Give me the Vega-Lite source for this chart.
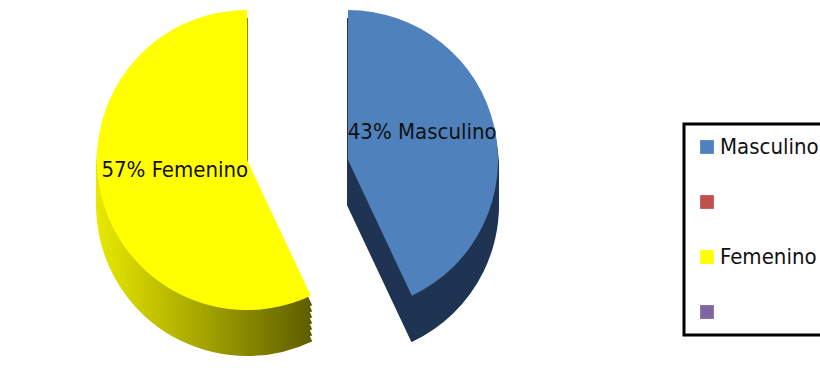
{
  "$schema": "https://vega.github.io/schema/vega-lite/v6.json",
  "width": 600,
  "height": 368,
  "padding": 0,
  "background": "white",
  "config": {"view": {"stroke": null}, "font": "DejaVu Sans Condensed, Roboto, sans-serif"},
  "data": {"values": [
    {"sexo": "Masculino", "porcentaje": 43},
    {"sexo": "Femenino", "porcentaje": 57}
  ]},
  "transform": [{"calculate": "datum.porcentaje + '% ' + datum.sexo", "as": "etiqueta"}],
  "encoding": {
    "theta": {"field": "porcentaje", "type": "quantitative", "stack": true},
    "order": {"field": "sexo", "sort": "descending"}
  },
  "layer": [
    {"mark": {"type": "arc", "outerRadius": 150, "xOffset": 48, "yOffset": 21, "fill": "#1F3452", "stroke": "#1F3452", "strokeWidth": 2},
     "encoding": {"opacity": {"condition": {"test": "datum.sexo == 'Masculino'", "value": 1}, "value": 0}}},
    {"mark": {"type": "arc", "outerRadius": 150, "xOffset": 48, "yOffset": 15, "fill": "#1F3452", "stroke": "#1F3452", "strokeWidth": 2},
     "encoding": {"opacity": {"condition": {"test": "datum.sexo == 'Masculino'", "value": 1}, "value": 0}}},
    {"mark": {"type": "arc", "outerRadius": 150, "xOffset": 48, "yOffset": 9, "fill": "#1F3452", "stroke": "#1F3452", "strokeWidth": 2},
     "encoding": {"opacity": {"condition": {"test": "datum.sexo == 'Masculino'", "value": 1}, "value": 0}}},
    {"mark": {"type": "arc", "outerRadius": 150, "xOffset": 48, "yOffset": 3, "fill": "#1F3452", "stroke": "#1F3452", "strokeWidth": 2},
     "encoding": {"opacity": {"condition": {"test": "datum.sexo == 'Masculino'", "value": 1}, "value": 0}}},
    {"mark": {"type": "arc", "outerRadius": 150, "xOffset": 48, "yOffset": -3, "fill": "#1F3452", "stroke": "#1F3452", "strokeWidth": 2},
     "encoding": {"opacity": {"condition": {"test": "datum.sexo == 'Masculino'", "value": 1}, "value": 0}}},
    {"mark": {"type": "arc", "outerRadius": 150, "xOffset": 48, "yOffset": -9, "fill": "#1F3452", "stroke": "#1F3452", "strokeWidth": 2},
     "encoding": {"opacity": {"condition": {"test": "datum.sexo == 'Masculino'", "value": 1}, "value": 0}}},
    {"mark": {"type": "arc", "outerRadius": 150, "xOffset": 48, "yOffset": -15, "fill": "#1F3452", "stroke": "#1F3452", "strokeWidth": 2},
     "encoding": {"opacity": {"condition": {"test": "datum.sexo == 'Masculino'", "value": 1}, "value": 0}}},
    {"mark": {"type": "arc", "outerRadius": 150, "xOffset": -53, "yOffset": 21, "strokeWidth": 2,
      "fill": {"gradient": "linear", "x1": 0, "y1": 0, "x2": 1, "y2": 0, "stops": [{"offset": 0, "color": "#E8E800"}, {"offset": 1, "color": "#5E5E00"}]},
      "stroke": {"gradient": "linear", "x1": 0, "y1": 0, "x2": 1, "y2": 0, "stops": [{"offset": 0, "color": "#E8E800"}, {"offset": 1, "color": "#5E5E00"}]}},
     "encoding": {"opacity": {"condition": {"test": "datum.sexo == 'Femenino'", "value": 1}, "value": 0}}},
    {"mark": {"type": "arc", "outerRadius": 150, "xOffset": -53, "yOffset": 15, "strokeWidth": 2,
      "fill": {"gradient": "linear", "x1": 0, "y1": 0, "x2": 1, "y2": 0, "stops": [{"offset": 0, "color": "#E8E800"}, {"offset": 1, "color": "#5E5E00"}]},
      "stroke": {"gradient": "linear", "x1": 0, "y1": 0, "x2": 1, "y2": 0, "stops": [{"offset": 0, "color": "#E8E800"}, {"offset": 1, "color": "#5E5E00"}]}},
     "encoding": {"opacity": {"condition": {"test": "datum.sexo == 'Femenino'", "value": 1}, "value": 0}}},
    {"mark": {"type": "arc", "outerRadius": 150, "xOffset": -53, "yOffset": 9, "strokeWidth": 2,
      "fill": {"gradient": "linear", "x1": 0, "y1": 0, "x2": 1, "y2": 0, "stops": [{"offset": 0, "color": "#E8E800"}, {"offset": 1, "color": "#5E5E00"}]},
      "stroke": {"gradient": "linear", "x1": 0, "y1": 0, "x2": 1, "y2": 0, "stops": [{"offset": 0, "color": "#E8E800"}, {"offset": 1, "color": "#5E5E00"}]}},
     "encoding": {"opacity": {"condition": {"test": "datum.sexo == 'Femenino'", "value": 1}, "value": 0}}},
    {"mark": {"type": "arc", "outerRadius": 150, "xOffset": -53, "yOffset": 3, "strokeWidth": 2,
      "fill": {"gradient": "linear", "x1": 0, "y1": 0, "x2": 1, "y2": 0, "stops": [{"offset": 0, "color": "#E8E800"}, {"offset": 1, "color": "#5E5E00"}]},
      "stroke": {"gradient": "linear", "x1": 0, "y1": 0, "x2": 1, "y2": 0, "stops": [{"offset": 0, "color": "#E8E800"}, {"offset": 1, "color": "#5E5E00"}]}},
     "encoding": {"opacity": {"condition": {"test": "datum.sexo == 'Femenino'", "value": 1}, "value": 0}}},
    {"mark": {"type": "arc", "outerRadius": 150, "xOffset": -53, "yOffset": -3, "strokeWidth": 2,
      "fill": {"gradient": "linear", "x1": 0, "y1": 0, "x2": 1, "y2": 0, "stops": [{"offset": 0, "color": "#E8E800"}, {"offset": 1, "color": "#5E5E00"}]},
      "stroke": {"gradient": "linear", "x1": 0, "y1": 0, "x2": 1, "y2": 0, "stops": [{"offset": 0, "color": "#E8E800"}, {"offset": 1, "color": "#5E5E00"}]}},
     "encoding": {"opacity": {"condition": {"test": "datum.sexo == 'Femenino'", "value": 1}, "value": 0}}},
    {"mark": {"type": "arc", "outerRadius": 150, "xOffset": -53, "yOffset": -9, "strokeWidth": 2,
      "fill": {"gradient": "linear", "x1": 0, "y1": 0, "x2": 1, "y2": 0, "stops": [{"offset": 0, "color": "#E8E800"}, {"offset": 1, "color": "#5E5E00"}]},
      "stroke": {"gradient": "linear", "x1": 0, "y1": 0, "x2": 1, "y2": 0, "stops": [{"offset": 0, "color": "#E8E800"}, {"offset": 1, "color": "#5E5E00"}]}},
     "encoding": {"opacity": {"condition": {"test": "datum.sexo == 'Femenino'", "value": 1}, "value": 0}}},
    {"mark": {"type": "arc", "outerRadius": 150, "xOffset": -53, "yOffset": -15, "strokeWidth": 2,
      "fill": {"gradient": "linear", "x1": 0, "y1": 0, "x2": 1, "y2": 0, "stops": [{"offset": 0, "color": "#E8E800"}, {"offset": 1, "color": "#5E5E00"}]},
      "stroke": {"gradient": "linear", "x1": 0, "y1": 0, "x2": 1, "y2": 0, "stops": [{"offset": 0, "color": "#E8E800"}, {"offset": 1, "color": "#5E5E00"}]}},
     "encoding": {"opacity": {"condition": {"test": "datum.sexo == 'Femenino'", "value": 1}, "value": 0}}},
    {
      "mark": {"type": "arc", "outerRadius": 150, "xOffset": 48, "yOffset": -24},
      "encoding": {
        "color": {"field": "sexo", "type": "nominal",
          "scale": {"domain": ["Masculino", "b", "Femenino", "d"], "range": ["#4F81BD", "#C0504D", "#FFFF00", "#8064A2"]},
          "legend": {"title": null, "orient": "none", "legendX": 684, "legendY": 124,
            "padding": 12, "strokeColor": "black", "fillColor": "white",
            "symbolType": "square", "symbolSize": 190, "symbolOpacity": 1, "symbolStrokeWidth": 0,
            "labelFont": "DejaVu Sans Condensed, Roboto, sans-serif", "labelFontSize": 22, "labelColor": "#111",
            "labelOffset": 2, "rowPadding": 33, "labelLimit": 200,
            "labelExpr": "datum.label == 'b' || datum.label == 'd' ? '' : datum.label",
            "encode": {"legend": {"update": {"strokeWidth": {"value": 3}}}}}},
        "opacity": {"condition": {"test": "datum.sexo == 'Masculino'", "value": 1}, "value": 0}
      }
    },
    {
      "mark": {"type": "arc", "outerRadius": 150, "xOffset": -53, "yOffset": -24},
      "encoding": {
        "color": {"field": "sexo", "type": "nominal"},
        "opacity": {"condition": {"test": "datum.sexo == 'Femenino'", "value": 1}, "value": 0}
      }
    },
    {
      "mark": {"type": "text", "radius": 76, "xOffset": 48, "yOffset": -35, "fontSize": 22, "color": "#111"},
      "encoding": {
        "text": {"field": "etiqueta"},
        "opacity": {"condition": {"test": "datum.sexo == 'Masculino'", "value": 1}, "value": 0}
      }
    },
    {
      "mark": {"type": "text", "radius": 74, "xOffset": -53, "yOffset": -30, "fontSize": 22, "color": "#111"},
      "encoding": {
        "text": {"field": "etiqueta"},
        "opacity": {"condition": {"test": "datum.sexo == 'Femenino'", "value": 1}, "value": 0}
      }
    }
  ]
}
